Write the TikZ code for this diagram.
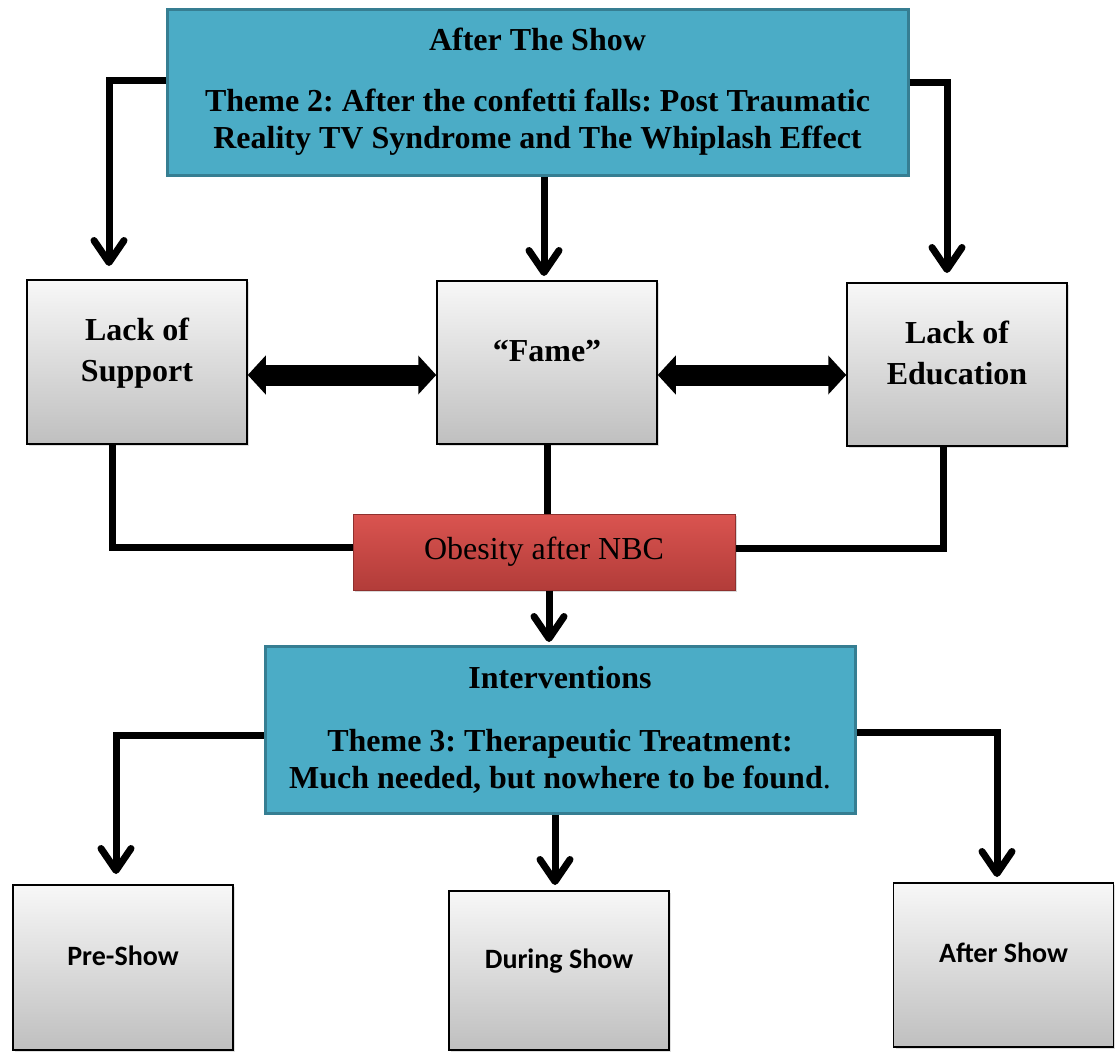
\documentclass[tikz,border=0pt]{standalone}
\usepackage{fontspec}
\setmainfont{Liberation Serif}
\newfontfamily\calfont{Carlito}
\usetikzlibrary{arrows.meta,shadows}
\frenchspacing
\definecolor{aquafill}{HTML}{4BACC6}
\definecolor{aquaedge}{HTML}{367E92}
\definecolor{redtop}{HTML}{DA5450}
\definecolor{redbot}{HTML}{B23C39}
\tikzset{
  themebox/.style={draw=aquaedge, fill=aquafill, line width=3pt, align=center,
    font=\fontsize{32}{37}\selectfont\bfseries},
  greybox/.style={draw=black, line width=1.5pt, top color=white!97!black, bottom color=black!25,
    drop shadow={opacity=0.25}, minimum width=220pt, align=center, text depth=24pt},
  redbox/.style={draw=redbot!80!black, line width=1pt, top color=redtop, bottom color=redbot,
    drop shadow={opacity=0.3}, minimum width=382pt, minimum height=76pt,
    font=\fontsize{32}{37}\selectfont},
  conn/.style={line width=7pt, -{Straight Barb[length=22pt,width=30pt,round]}},
  link/.style={line width=7pt},
  twoway/.style={line width=21pt, {Triangle[length=18pt,width=38pt]}-{Triangle[length=18pt,width=38pt]}}
}
\begin{document}
\begin{tikzpicture}[x=1pt,y=-1pt]
	\useasboundingbox (0,0) rectangle (1115,1052);

	\node[themebox, minimum width=741pt, minimum height=166pt] (top) at (537.5,92)
		{After The Show\\[24pt]Theme 2: After the confetti falls: Post Traumatic\\Reality TV Syndrome and The Whiplash Effect};

	\node[greybox, minimum height=164pt, font=\fontsize{32}{41}\selectfont\bfseries] (ls) at (137,362) {Lack of\\Support};
	\node[greybox, minimum height=163pt, font=\fontsize{32}{41}\selectfont\bfseries] (fame) at (547,362.5) {``Fame''};
	\node[greybox, minimum height=163pt, font=\fontsize{32}{41}\selectfont\bfseries] (le) at (957,364.5) {Lack of\\Education};

	\node[redbox] (obes) at (544,552) {Obesity after NBC};

	\node[themebox, minimum width=590pt, minimum height=167pt] (inter) at (560,729.5)
		{Interventions\\[26pt]Theme 3: Therapeutic Treatment:\\Much needed, but nowhere to be found\textmd{.}};

	\foreach \n/\x/\y/\h/\t in {pre/123/967.5/165/Pre-Show, during/559/970.5/159/During Show, after/1003.5/965/164/After Show}
		\node[greybox, minimum height=\h pt, font=\fontsize{28}{33}\calfont\bfseries] (\n) at (\x,\y) {\t};

	\coordinate (lstip) at (109,266);
	\coordinate (fametip) at (544,276);
	\coordinate (letip) at (947,273);
	\coordinate (lsdrop) at (112,500);
	\coordinate (ledrop) at (943,500);
	\coordinate (intertip) at (549,642);
	\coordinate (pretip) at (116,874);
	\coordinate (durtip) at (555,885);
	\coordinate (afttip) at (997,877);

	\draw[conn] ([yshift=12pt]top.west) -| (lstip);
	\draw[conn] (top.south -| fametip) -- (fametip);
	\draw[conn] ([yshift=10pt]top.east) -| (letip);

	\draw[twoway] ([yshift=-13pt]ls.east) -- ([yshift=-12.5pt]fame.west);
	\draw[twoway] ([yshift=-12.5pt]fame.east) -- ([yshift=-10.5pt]le.west);

	\draw[link] (ls.south -| lsdrop) |- ([yshift=5pt]obes.west);
	\draw[link] (fame.south) -- (obes.north -| fame.south);
	\draw[link] (le.south -| ledrop) |- ([yshift=4pt]obes.east);
	\draw[conn] (obes.south -| intertip) -- (intertip);

	\draw[conn] ([yshift=-5.5pt]inter.west) -| (pretip);
	\draw[conn] (inter.south -| durtip) -- (durtip);
	\draw[conn] ([yshift=-2.5pt]inter.east) -| (afttip);
\end{tikzpicture}
\end{document}
